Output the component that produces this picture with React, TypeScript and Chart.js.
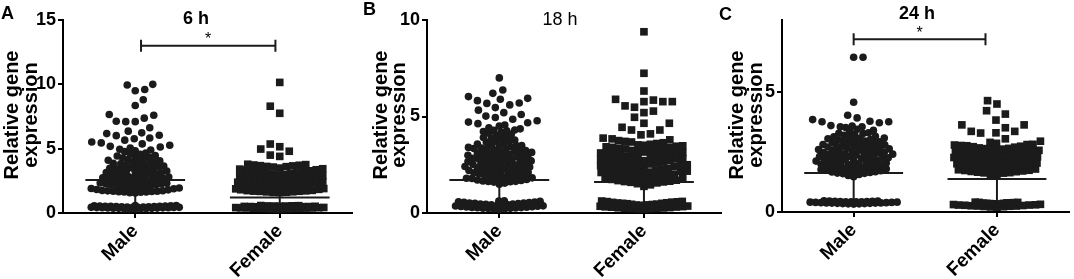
import React, { useEffect, useRef } from 'react';
import { Chart, registerables } from 'chart.js';

Chart.register(...registerables);

// ---------------- data ----------------
const categories = ['Male', 'Female'];
const panelLetters = ['A', 'B', 'C'];
const panelTitles = ['6 h', '18 h', '24 h'];
const yAxisTitle = ['Relative gene', 'expression'];
const yTicks6h = [0, 5, 10, 15];
const yTicks18h = [0, 5, 10];
const yTicks24h = [0, 5];
const sigLabel = '*';

const male6h = [
  0.31, 0.35, 0.33, 0.38, 0.36, 0.41, 0.39, 0.44, 0.42, 0.47, 0.45, 0.49, 0.52, 0.5, 0.55, 0.53, 0.57, 0.56, 0.34, 0.43, 0.48, 0.54, 0.4, 0.46,
  0.32, 0.37, 0.41, 0.45, 0.5, 0.54, 0.58, 0.36, 0.44, 0.52,
  1.56, 1.61, 1.58, 1.64, 1.63, 1.67, 1.66, 1.7, 1.69, 1.73, 1.72, 1.75,
  1.8, 1.83, 1.88, 1.9, 1.94, 1.98, 1.99, 2.04, 2.07, 2.09, 2.13, 2.15, 2.19, 2.21, 2.26, 2.28, 2.31, 2.34,
  2.38, 2.42, 2.44, 2.49, 2.51, 2.55, 2.58, 2.6, 2.65, 2.68, 2.7, 2.73, 2.78, 2.8, 2.83, 2.87, 2.9, 2.92,
  2.97, 3.02, 3.05, 3.08, 3.13, 3.15, 3.2, 3.24, 3.26, 3.31, 3.34, 3.38, 3.41, 3.46, 3.48, 3.52,
  3.58, 3.62, 3.65, 3.7, 3.74, 3.79, 3.83, 3.86, 3.92, 3.95, 4.01, 4.05, 4.1,
  4.15, 4.22, 4.27, 4.31, 4.38, 4.43, 4.47, 4.56, 4.61, 4.66,
  4.77, 4.84, 4.9, 4.96, 5.05, 5.13, 5.18, 5.26,
  5.37, 5.45, 5.52, 5.66, 5.77, 5.83,
  6.01, 6.04, 6.17, 6.23, 6.36, 6.63, 7.1, 7.1, 7.13, 7.37, 7.6, 7.65, 8.35, 8.8, 9.5, 9.6, 9.95, 10.0,
];
const female6h = [
  0.31, 0.34, 0.33, 0.37, 0.36, 0.4, 0.39, 0.43, 0.42, 0.46, 0.45, 0.48, 0.51, 0.5, 0.54, 0.52, 0.57, 0.55, 0.35, 0.44, 0.49, 0.53, 0.38, 0.47,
  0.32, 0.36, 0.41, 0.45, 0.5, 0.54, 0.58, 0.39, 0.47, 0.56,
  1.59, 1.62, 1.6, 1.65, 1.64, 1.68, 1.7, 1.69, 1.72, 1.74, 1.76,
  1.81, 1.84, 1.88, 1.9, 1.95, 1.97, 2.01, 2.05, 2.06, 2.11, 2.14, 2.16, 2.21, 2.23, 2.28, 2.3, 2.33,
  2.39, 2.43, 2.45, 2.5, 2.53, 2.56, 2.6, 2.62, 2.67, 2.7, 2.72, 2.77, 2.79, 2.84, 2.86, 2.9, 2.93,
  2.98, 3.01, 3.06, 3.1, 3.12, 3.17, 3.21, 3.25, 3.28, 3.33, 3.36, 3.41, 3.44, 3.49,
  3.57, 3.6, 3.62, 3.66, 3.68, 3.71, 3.73, 3.76, 3.79,
  4.4, 4.5, 4.8, 4.97, 5.15, 5.36, 7.75, 8.3, 10.15,
];
const male18h = [
  0.21, 0.2, 0.23, 0.25, 0.24, 0.27, 0.29, 0.28, 0.31, 0.33, 0.35, 0.34, 0.37,
  0.41, 0.43, 0.44, 0.47, 0.46, 0.5, 0.52, 0.51, 0.55, 0.58, 0.6, 0.63,
  0.22, 0.26, 0.3, 0.36, 0.39, 0.45, 0.49, 0.54, 0.57, 0.62,
  1.49, 1.55,
  1.6, 1.63, 1.62, 1.64, 1.66, 1.69, 1.71, 1.74, 1.77, 1.79, 1.8, 1.82, 1.86, 1.89, 1.92, 1.93, 1.95,
  1.99, 2.02, 2.04, 2.06, 2.08, 2.1, 2.14, 2.16, 2.19, 2.2, 2.22, 2.25, 2.28, 2.31, 2.33, 2.35, 2.36,
  2.38, 2.41, 2.43, 2.47, 2.49, 2.5, 2.52, 2.55, 2.59, 2.61, 2.63, 2.64, 2.67, 2.7, 2.72, 2.75,
  2.77, 2.78, 2.81, 2.84, 2.86, 2.9, 2.91, 2.93, 2.96, 2.99, 3.02, 3.04, 3.05, 3.08, 3.11, 3.14,
  3.17, 3.19, 3.2, 3.24, 3.27, 3.3, 3.33, 3.34, 3.36, 3.4, 3.43, 3.47, 3.49, 3.5, 3.53,
  3.57, 3.61, 3.66, 3.7, 3.74, 3.78, 3.83, 3.87, 3.91,
  3.97, 4.02, 4.08, 4.13, 4.18, 4.22, 4.26, 4.28, 4.3,
  4.36, 4.42, 4.5, 4.56, 4.63, 4.68, 4.71,
  4.78, 4.86, 4.95, 5.02, 5.1,
  5.2, 5.33, 5.46,
  5.6, 5.68, 5.7, 5.82, 5.89, 5.94, 6.03, 6.2, 6.37, 7.0,
];
const female18h = [
  0.2, 0.22, 0.21, 0.24, 0.26, 0.25, 0.28, 0.3, 0.32, 0.31, 0.35, 0.37,
  0.4, 0.42, 0.45, 0.44, 0.48, 0.5, 0.53, 0.52, 0.56, 0.58, 0.6,
  0.23, 0.27, 0.33, 0.36, 0.41, 0.46, 0.5, 0.55, 0.59, 0.62,
  1.38, 1.46, 1.52, 1.56,
  1.59, 1.61, 1.63, 1.65, 1.68, 1.7, 1.72, 1.74, 1.77, 1.79, 1.81, 1.84, 1.86, 1.89, 1.91, 1.93, 1.96,
  1.98, 2.0, 2.03, 2.05, 2.08, 2.1, 2.12, 2.15, 2.17, 2.2, 2.22, 2.25, 2.27, 2.29, 2.32, 2.34, 2.36,
  2.37, 2.4, 2.42, 2.45, 2.47, 2.5, 2.52, 2.54, 2.57, 2.59, 2.62, 2.64, 2.67, 2.69, 2.71, 2.73, 2.75,
  2.77, 2.8, 2.82, 2.85, 2.88, 2.9, 2.93, 2.95, 2.98, 3.0, 3.03, 3.06, 3.08, 3.11, 3.13, 3.14,
  3.16, 3.19, 3.22, 3.24, 3.27, 3.3, 3.32, 3.35, 3.38, 3.4, 3.43, 3.46, 3.48, 3.51, 3.53,
  3.56, 3.6, 3.64, 3.68, 3.71, 3.75, 3.79, 3.84, 3.88,
  4.05, 4.1, 4.3, 4.3, 4.44, 4.65, 4.65, 4.96, 5.2, 5.28, 5.48, 5.55, 5.77, 5.77, 5.77, 5.85, 5.89, 6.32, 7.24, 9.39,
];
const male24h = [
  0.33, 0.35, 0.34, 0.37, 0.36, 0.39, 0.38, 0.41, 0.4, 0.43, 0.42, 0.45, 0.44, 0.46, 0.47, 0.35, 0.39, 0.42, 0.44, 0.37,
  0.34, 0.36, 0.38, 0.4, 0.43, 0.45, 0.41, 0.46,
  1.47, 1.52, 1.56,
  1.6, 1.61, 1.62, 1.65, 1.67, 1.68, 1.7, 1.72, 1.74, 1.75, 1.77, 1.79, 1.8, 1.83, 1.85, 1.86, 1.88,
  1.9, 1.92, 1.94, 1.95, 1.97, 1.99, 2.0, 2.02, 2.04, 2.05, 2.07, 2.09, 2.11, 2.12, 2.14, 2.16, 2.17, 2.19, 2.21,
  2.23, 2.24, 2.26, 2.28, 2.29, 2.31, 2.33, 2.35, 2.36, 2.38, 2.39, 2.41, 2.43, 2.44, 2.46, 2.48, 2.5, 2.51, 2.52,
  2.55, 2.57, 2.58, 2.6, 2.62, 2.63, 2.66, 2.68, 2.69, 2.71, 2.73, 2.74, 2.76, 2.79, 2.8, 2.81, 2.84,
  2.86, 2.87, 2.9, 2.93, 2.94, 2.96, 2.99, 3.0, 3.02, 3.05, 3.07, 3.08, 3.11, 3.13, 3.15,
  3.2, 3.24, 3.27, 3.28, 3.3, 3.35, 3.4, 3.45,
  3.52, 3.55, 3.55, 3.58, 3.6, 3.72, 3.76, 3.76, 3.78,
  3.85, 3.92, 4.03, 4.57, 6.45, 6.45,
];
const female24h = [
  0.2, 0.22, 0.21, 0.24, 0.25, 0.27, 0.26, 0.29, 0.3, 0.31,
  0.32, 0.33, 0.35, 0.34, 0.36, 0.38, 0.37, 0.39, 0.4, 0.41,
  0.23, 0.28, 0.33, 0.36, 0.29, 0.38, 0.25, 0.4,
  1.52, 1.56,
  1.62, 1.63, 1.64, 1.66, 1.68, 1.69, 1.71, 1.73, 1.74, 1.76, 1.78, 1.79, 1.8, 1.83, 1.85, 1.86, 1.88,
  1.91, 1.92, 1.93, 1.96, 1.97, 1.98, 2.01, 2.03, 2.04, 2.06, 2.08, 2.09, 2.1, 2.13, 2.15, 2.16, 2.18, 2.2,
  2.22, 2.23, 2.25, 2.27, 2.28, 2.3, 2.33, 2.34, 2.35, 2.38, 2.39, 2.4, 2.43, 2.45, 2.46, 2.48, 2.5, 2.52,
  2.53, 2.55, 2.57, 2.58, 2.6, 2.62, 2.64, 2.65, 2.67, 2.7, 2.72, 2.74, 2.76, 2.77, 2.79, 2.81, 2.82, 2.86,
  2.9, 2.95, 3.05,
  3.29, 3.3, 3.36, 3.36, 3.51, 3.63, 3.63, 3.83, 4.08, 4.22, 4.5, 4.64,
];

// mean and SD per group [Male, Female]
const mean6h = [2.56, 1.2];
const sd6h = [2.3, 1.0];
const mean18h = [1.71, 1.6];
const sd18h = [1.5, 1.3];
const mean24h = [1.62, 1.37];
const sd24h = [1.2, 1.1];

// significance brackets [from x, to x, y]
const bracket6h = [1.04, 1.97, 13];
const bracket24h = [1.0, 1.92, 7.2];

// ---------------- layout / style ----------------
const FONT = '"Liberation Sans", Arial, Helvetica, sans-serif';
const INK = '#1b1b1b';
const H = 279;
const MAX_OFF_PX = 44;
const CIRCLE_R = 3.8;
const SQUARE_R = 5.4;
const LOOSE_PX = 9.5;
const TIGHT_CIRCLE_PX = 5.5;
const TIGHT_SQUARE_PX = 6.2;
const DENSE_WINDOW_PX = 6;
const DENSE_COUNT = 12;

type PanelCfg = {
  left: number; width: number;
  area: { l: number; r: number; t: number; b: number };
  xMin: number; xMax: number; yMax: number; yTicks: number[];
  male: number[]; female: number[]; mean: number[]; sd: number[];
  bracket: number[] | null;
  letter: string; letterPos: [number, number];
  title: string; titleBold: boolean; titlePos: [number, number];
  yTitleX: [number, number]; yTitleY: number;
};

const PANELS: PanelCfg[] = [
  {
    left: 0, width: 360, area: { l: 63, r: 352, t: 20, b: 213 },
    xMin: 0.5, xMax: 2.5, yMax: 15, yTicks: yTicks6h,
    male: male6h, female: female6h, mean: mean6h, sd: sd6h, bracket: bracket6h,
    letter: panelLetters[0], letterPos: [1, 14], title: panelTitles[0], titleBold: true, titlePos: [196, 19],
    yTitleX: [12, 31], yTitleY: 115,
  },
  {
    left: 360, width: 366, area: { l: 67, r: 362, t: 20, b: 213 },
    xMin: 0.5, xMax: 2.53, yMax: 10, yTicks: yTicks18h,
    male: male18h, female: female18h, mean: mean18h, sd: sd18h, bracket: null,
    letter: panelLetters[1], letterPos: [3, 10], title: panelTitles[1], titleBold: false, titlePos: [200, 20],
    yTitleX: [21, 39], yTitleY: 115,
  },
  {
    left: 714, width: 360, area: { l: 68, r: 358, t: 20, b: 212 },
    xMin: 0.5, xMax: 2.5, yMax: 8, yTicks: yTicks24h,
    male: male24h, female: female24h, mean: mean24h, sd: sd24h, bracket: bracket24h,
    letter: panelLetters[2], letterPos: [5, 15], title: panelTitles[2], titleBold: true, titlePos: [203, 14],
    yTitleX: [23, 42], yTitleY: 115,
  },
];

// beeswarm placement: each value keeps its y; x offset found by dodging
function swarm(values: number[], center: number, xPx: number, yPx: number, square: boolean) {
  const sorted = values.slice().sort((a, b) => a - b);
  const pys = sorted.map((v) => v * yPx);
  const cands: number[] = [0];
  for (let k = 1; k <= MAX_OFF_PX * 2; k++) cands.push(k * 0.5, -k * 0.5);
  const tight = square ? TIGHT_SQUARE_PX : TIGHT_CIRCLE_PX;
  const placed: { ox: number; py: number }[] = [];
  const pts: { x: number; y: number }[] = [];
  const dist = (dx: number, dy: number) => (square ? Math.max(dx, dy) : Math.hypot(dx, dy));
  sorted.forEach((v, idx) => {
    const py = pys[idx];
    const local = pys.filter((q) => Math.abs(q - py) < DENSE_WINDOW_PX).length;
    const spacing = local >= DENSE_COUNT ? tight : LOOSE_PX;
    const near = placed.filter((p) => py - p.py < LOOSE_PX);
    const sign = idx % 2 === 0 ? 1 : -1;
    const minDist = (o: number) => {
      let md = Infinity;
      for (const p of near) {
        const d = dist(Math.abs(o - p.ox), Math.abs(py - p.py));
        if (d < md) md = d;
      }
      return md;
    };
    let chosen: number | null = null;
    for (const c of cands) {
      const o = c * sign;
      if (minDist(o) >= spacing) { chosen = o; break; }
    }
    if (chosen === null) {
      let bestScore = -1;
      chosen = 0;
      for (const c of cands) {
        const o = c * sign;
        const md = minDist(o);
        if (md > bestScore + 1e-6) { bestScore = md; chosen = o; }
      }
    }
    placed.push({ ox: chosen, py });
    pts.push({ x: center + chosen / xPx, y: v });
  });
  return pts;
}

function Panel({ cfg }: { cfg: PanelCfg }) {
  const ref = useRef<HTMLCanvasElement>(null);
  useEffect(() => {
    const { area } = cfg;
    const xPx = (area.r - area.l) / (cfg.xMax - cfg.xMin);
    const yPx = (area.b - area.t) / cfg.yMax;
    const malePts = swarm(cfg.male, 1, xPx, yPx, false);
    const femalePts = swarm(cfg.female, 2, xPx, yPx, true);

    const overlay = {
      id: 'overlay',
      afterDatasetsDraw(chart: any) {
        const ctx = chart.ctx;
        const xs = chart.scales.x;
        const ys = chart.scales.y;
        ctx.save();
        ctx.strokeStyle = INK;
        ctx.lineWidth = 2;
        cfg.mean.forEach((m, i) => {
          const cx = i + 1;
          ctx.beginPath();
          ctx.moveTo(xs.getPixelForValue(cx - 0.345), ys.getPixelForValue(m));
          ctx.lineTo(xs.getPixelForValue(cx + 0.345), ys.getPixelForValue(m));
          ctx.stroke();
          ctx.beginPath();
          ctx.moveTo(xs.getPixelForValue(cx), ys.getPixelForValue(Math.max(0, m - cfg.sd[i])));
          ctx.lineTo(xs.getPixelForValue(cx), ys.getPixelForValue(m + cfg.sd[i]));
          ctx.stroke();
        });
        ctx.restore();
      },
      afterDraw(chart: any) {
        const ctx = chart.ctx;
        const xs = chart.scales.x;
        const ys = chart.scales.y;
        ctx.save();
        ctx.fillStyle = '#000';
        ctx.textAlign = 'left';
        ctx.textBaseline = 'middle';
        ctx.font = `bold 18px ${FONT}`;
        ctx.fillText(cfg.letter, cfg.letterPos[0], cfg.letterPos[1]);
        ctx.textAlign = 'center';
        ctx.font = `${cfg.titleBold ? 'bold ' : ''}18px ${FONT}`;
        ctx.fillText(cfg.title, cfg.titlePos[0], cfg.titlePos[1]);
        ctx.font = `bold 20px ${FONT}`;
        yAxisTitle.forEach((line, i) => {
          ctx.save();
          ctx.translate(cfg.yTitleX[i], cfg.yTitleY);
          ctx.rotate(-Math.PI / 2);
          ctx.fillText(line, 0, 0);
          ctx.restore();
        });
        if (cfg.bracket) {
          const [x0, x1, yv] = cfg.bracket;
          const px0 = xs.getPixelForValue(x0);
          const px1 = xs.getPixelForValue(x1);
          const py = ys.getPixelForValue(yv);
          ctx.strokeStyle = INK;
          ctx.lineWidth = 2;
          ctx.beginPath();
          ctx.moveTo(px0, py); ctx.lineTo(px1, py);
          ctx.moveTo(px0, py - 6); ctx.lineTo(px0, py + 6);
          ctx.moveTo(px1, py - 6); ctx.lineTo(px1, py + 6);
          ctx.stroke();
          ctx.font = `16px ${FONT}`;
          ctx.fillText(sigLabel, (px0 + px1) / 2, py - 6);
        }
        ctx.restore();
      },
    };

    const gridCfg = { display: true, drawOnChartArea: false, drawTicks: true, tickLength: 5, color: '#000', lineWidth: 2 };
    const borderCfg = { display: true, color: '#000', width: 2 };

    const chart = new Chart(ref.current!, {
      type: 'scatter',
      data: {
        datasets: [
          { label: categories[0], data: malePts, pointStyle: 'circle', pointRadius: CIRCLE_R, backgroundColor: INK, borderWidth: 0, clip: false as any },
          { label: categories[1], data: femalePts, pointStyle: 'rect', pointRadius: SQUARE_R, backgroundColor: INK, borderWidth: 0, clip: false as any },
        ],
      },
      options: {
        animation: false,
        responsive: false,
        events: [],
        layout: { padding: { top: area.t, right: cfg.width - area.r, left: 0, bottom: 0 } },
        plugins: { legend: { display: false }, tooltip: { enabled: false }, title: { display: false } },
        scales: {
          x: {
            type: 'linear', min: cfg.xMin, max: cfg.xMax,
            afterBuildTicks: (s: any) => { s.ticks = [{ value: 1 }, { value: 2 }]; },
            afterFit: (s: any) => { s.height = H - area.b; },
            ticks: {
              callback: (v: any) => categories[Math.round(Number(v)) - 1] ?? '',
              font: { family: FONT, size: 19, weight: 'bold' }, color: '#000',
              minRotation: 45, maxRotation: 45, autoSkip: false, padding: 2,
            },
            grid: gridCfg as any, border: borderCfg as any,
          },
          y: {
            type: 'linear', min: 0, max: cfg.yMax,
            afterBuildTicks: (s: any) => { s.ticks = cfg.yTicks.map((v) => ({ value: v })); },
            afterFit: (s: any) => { s.width = area.l; },
            ticks: { font: { family: FONT, size: 18, weight: 'bold' }, color: '#000', padding: 2 },
            grid: gridCfg as any, border: borderCfg as any,
          },
        },
      },
      plugins: [overlay],
    });
    return () => chart.destroy();
  }, [cfg]);
  return (
    <canvas
      ref={ref}
      width={cfg.width}
      height={H}
      style={{ position: 'absolute', left: cfg.left, top: 0, width: cfg.width, height: H }}
    />
  );
}

export default function App() {
  return (
    <div style={{ position: 'absolute', left: 0, top: 0, width: 1074, height: H, background: '#fff', overflow: 'hidden' }}>
      {PANELS.map((p, i) => (
        <Panel key={i} cfg={p} />
      ))}
    </div>
  );
}
